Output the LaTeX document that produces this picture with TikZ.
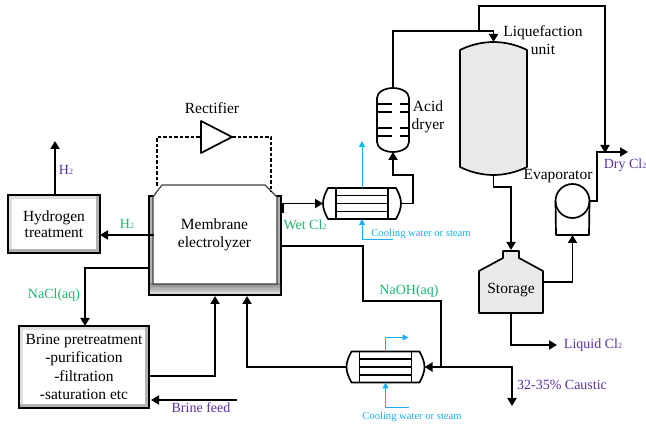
\documentclass[tikz,border=0pt]{standalone}
\usepackage{fontspec}
\setmainfont{Liberation Serif}
\usetikzlibrary{positioning,arrows.meta,calc}
\definecolor{cgreen}{HTML}{1DB56C}
\definecolor{cpurple}{HTML}{5A2FA5}
\definecolor{cblue}{HTML}{1AAEEF}
\definecolor{cpale}{HTML}{E9E9E9}
\newcommand{\fs}[1]{\fontsize{#1}{#1}\selectfont}
\newcommand{\sbt}{{\fs{8}2}}

\tikzset{
  hxr/.pic={
    \draw[vessel] (-26,-15.5) -- (-34,-15.5) .. controls (-37,-10) and (-39,-5) .. (-39,0)
      .. controls (-39,5) and (-37,10) .. (-34,15.5) -- (34,15.5)
      .. controls (37,10) and (39,5) .. (39,0) .. controls (39,-5) and (37,-10) .. (34,-15.5) -- cycle;
    \draw[vessel] (-26,-15.5) -- (-26,15.5) (26,-15.5) -- (26,15.5);
    \foreach \ty in {-8,0,8} \draw[vessel] (-26,\ty) -- (26,\ty);
    \coordinate (-west) at (-39,0);
    \coordinate (-east) at (39,0);
    \coordinate (-north) at (0,-15.5);
    \coordinate (-south) at (0,15.5);
  }
}

\begin{document}
\begin{tikzpicture}[x=1pt,y=-1pt,font=\fs{15.5},
  box/.style={rectangle, inner sep=0pt, outer sep=0pt},
  bevel/.style={box, draw, line width=1.8pt, align=center, fill=gray!45,
    path picture={
      \fill[gray!25] (path picture bounding box.north west) rectangle (path picture bounding box.south east);
      \fill[gray!60] ($(path picture bounding box.south west)+(0pt,4pt)$) rectangle (path picture bounding box.south east);
      \fill[gray!60] ($(path picture bounding box.north east)+(-4pt,0pt)$) rectangle (path picture bounding box.south east);
      \fill[white] ($(path picture bounding box.south west)+(4pt,4pt)$) rectangle ($(path picture bounding box.north east)+(-4pt,-4pt)$);
    }},
  vessel/.style={line width=1.7pt, line join=round},
  arr/.style={line width=1.8pt, -{Triangle[length=8pt,width=9pt]}},
  pipe/.style={line width=1.8pt},
  warr/.style={cblue, line width=1pt, -{Triangle[length=6pt,width=6pt]}},
  dsh/.style={line width=1.3pt, dash pattern=on 3.5pt off 2pt},
  grn/.style={text=cgreen, font=\fs{14}},
  pur/.style={text=cpurple, font=\fs{14}},
  wtr/.style={text=cblue, font=\fs{10.6}}]

\useasboundingbox (0,0) rectangle (646,427);

% boxes on the left
\node[bevel, minimum width=92pt, minimum height=58pt] (hyd) at (54,224) {Hydrogen\\[1pt] treatment};
\node[bevel, minimum width=130pt, minimum height=82pt] (brn) at (84,367)
  {Brine pretreatment\\[3pt] -purification\\[3pt] -filtration\\[3pt] -saturation etc};

% electrolyzer
\node[box, draw, line width=1.8pt, minimum width=132pt, minimum height=99pt] (mem) at (215,245.5) {};
\fill[gray!60] (150,197) rectangle (153,284);
\fill[gray!60] (277,197) rectangle (280,284);
\fill[top color=gray!90, bottom color=gray!20] (150,284) rectangle (280,294);
\filldraw[fill=white, draw=black!75, line width=1.2pt] (153,197) -- (162,185) -- (265,185) -- (277,197)
  -- (277,284) -- (153,284) -- cycle;
\node[align=center] (memtxt) at (214.5,235) {Membrane\\[2pt] electrolyzer};

% rectifier
\node[box, minimum width=31pt, minimum height=32pt] (rec) at (216.5,137) {};
\draw[vessel] (201,121) -- (232,137) -- (201,153) -- cycle;
\node (rectxt) at (212,108) {Rectifier};
\coordinate (recl) at (157,186);
\coordinate (recr) at (271,192);
\draw[dsh] (recl) |- (rec.west);
\draw[dsh] (rec.east) -| (recr);

% heat exchangers
\pic (hxa) at (362,203.5) {hxr};
\pic (hxb) at (385.5,367) {hxr};

% acid dryer
\node[box, minimum width=32pt, minimum height=64pt] (dry) at (393,120) {};
\draw[vessel] (377,98) .. controls (377,92) and (385,88) .. (393,88) .. controls (401,88) and (409,92) .. (409,98)
  -- (409,142) .. controls (409,148) and (401,152) .. (393,152) .. controls (385,152) and (377,148) .. (377,142) -- cycle;
\foreach \ty in {104,112,128,136} \draw[vessel] (377,\ty) -- (392,\ty) (400,\ty) -- (409,\ty);
\node[align=center] (drytxt) at (428,116.5) {Acid\\[2.5pt] dryer};

% liquefaction unit
\node[box, minimum width=67pt, minimum height=133pt] (liq) at (493.5,108.5) {};
\filldraw[vessel, fill=cpale] (460,50) .. controls (470,45) and (482,42) .. (493.5,42) .. controls (505,42) and (517,45) .. (527,50)
  -- (527,167) .. controls (517,172) and (505,175) .. (493.5,175) .. controls (482,175) and (470,172) .. (460,167) -- cycle;
\node[align=center] (liqtxt) at (543,40.5) {Liquefaction\\[2.5pt] unit};

% storage
\node[box, minimum width=64pt, minimum height=62pt] (sto) at (511,282) {};
\filldraw[vessel, fill=cpale] (503,251) -- (519,251) -- (519,258) -- (543,271) -- (543,313) -- (479,313) -- (479,271)
  -- (503,258) -- cycle;
\node (stotxt) at (511,290) {Storage};
\coordinate (stotop) at (511,250);

% evaporator
\node[circle, draw, line width=1.7pt, minimum size=34pt, inner sep=0pt, outer sep=0pt] (eva) at (572.5,201) {};
\node[box, minimum width=33pt, minimum height=0pt] (evab) at (572.5,235) {};
\draw[vessel] (eva.west) -- (evab.west) -- (evab.east) -- (eva.east);
\node (evatxt) at (558,176) {Evaporator};

% free ends
\coordinate (h2top) at (55,141);
\coordinate (h2bot) at (55,195);
\coordinate (memh2) at (154,235);
\coordinate (memcl) at (283,213);
\coordinate (memna) at (149,268);
\coordinate (memoh) at (281,246);
\coordinate (memb1) at (215,296);
\coordinate (memb2) at (247,296);
\coordinate (feed) at (237,400);
\coordinate (feedend) at (151,400);
\coordinate (brnout) at (150,376);
\coordinate (jna) at (85,326);
\coordinate (jcl) at (479,31);
\coordinate (dryc) at (605,153);
\coordinate (dryend) at (628,152);
\coordinate (stoout) at (543,282);
\coordinate (lqc) at (557,345);
\coordinate (cau) at (512,406);
\coordinate (jcau) at (441,367);

% main pipes
\draw[arr] (h2bot) -- (h2top);
\draw[arr] (memh2) -- (hyd.east |- memh2);
\draw[arr] (memna) -| (jna);
\draw[arr] (brnout) -| (memb1);
\draw[arr] (feed) -- (feedend);
\draw[arr] (hxb-west) -| (memb2);
\draw[arr] (memcl) -- ++(0,-9.5) -- (hxa-west);
\draw[arr] (hxa-east) -- ++(12,0) -- ++(0,-28.5) -| (dry.south);
\draw[arr] (dry.north) |- ($(jcl)+(14.5,0)$) -- (liq.north);
\draw[arr] (jcl) -- ++(0,-25) -| (dryc);
\draw[arr] (eva.east) -- ++(7.5,0) |- (dryend);
\draw[arr] (liq.south) -- ++(0,12) -| (stotop);
\draw[arr] (stoout) -| (evab.south);
\draw[arr] (sto.south) |- (lqc);
\draw[pipe] (memoh) -- ++(82,0) -- ++(0,55) -| (jcau);
\draw[arr] (jcau) -- (hxb-east);
\draw[arr] (jcau) -| (cau);

% water
\draw[warr] (hxa-north) -- ++(0,-47);
\draw[warr] (393,240) -| (hxa-south);
\draw[warr] (hxb-north) -- ++(0,-14) -- ++(23,0);
\draw[warr] (409,408) -| (hxb-south);

% labels
\node[pur] (lh2t) at (66,170) {H\sbt};
\node[grn] (lh2m) at (127,224) {H\sbt};
\node[grn] (lwet) at (305,225) {Wet Cl\sbt};
\node[grn] (lnacl) at (54,295) {NaCl(aq)};
\node[grn] (lnaoh) at (409,291) {NaOH(aq)};
\node[pur] (lfeed) at (201,408) {Brine feed};
\node[pur] (ldry) at (625,165) {Dry Cl\sbt};
\node[pur] (lliq) at (593,345) {Liquid Cl\sbt};
\node[pur] (lcau) at (562,385) {32-35\% Caustic};
\node[wtr] (lwa) at (421,234) {Cooling water or steam};
\node[wtr] (lwb) at (412,417) {Cooling water or steam};
\end{tikzpicture}
\end{document}
